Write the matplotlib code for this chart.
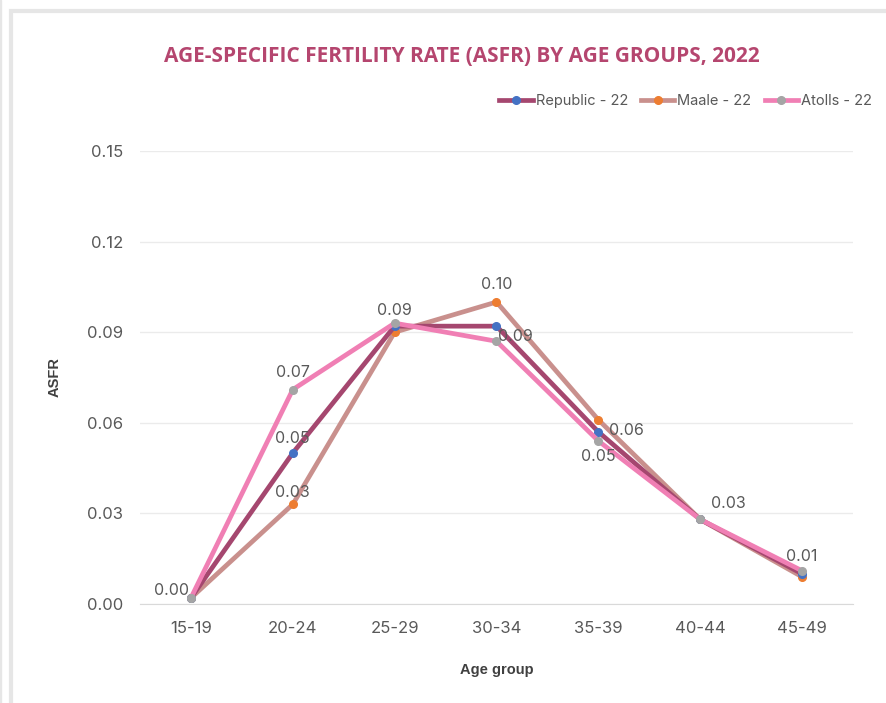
import numpy as np
import matplotlib.pyplot as plt
from matplotlib.patches import Rectangle

# data
age_groups = ["15-19", "20-24", "25-29", "30-34", "35-39", "40-44", "45-49"]
republic = [0.002, 0.050, 0.092, 0.092, 0.057, 0.028, 0.010]
maale = [0.002, 0.033, 0.090, 0.100, 0.061, 0.028, 0.009]
atolls = [0.002, 0.071, 0.093, 0.087, 0.054, 0.028, 0.011]

plt.rcParams['font.family'] = ['Inter', 'DejaVu Sans']
fig = plt.figure(figsize=(8.87, 7.03), dpi=100)

# light grey frame round the chart
fig.patches.append(Rectangle((11 / 887, -0.01), 1.0, 0.995, transform=fig.transFigure,
                             fill=False, edgecolor="#e6e6e6", linewidth=3))
fig.patches.append(Rectangle((0, 0), 0.0015, 1, transform=fig.transFigure,
                             color="#e6e6e6"))

ax = fig.add_axes([140 / 887, 99 / 703, 713 / 887, 453 / 703])
x = np.arange(len(age_groups))

ax.plot(x, republic, color="#a5476f", lw=3.4, marker="o", ms=5.5,
        mfc="#4472c4", mec="#4472c4", label="Republic - 22", zorder=3)
ax.plot(x, maale, color="#c9908d", lw=3.4, marker="o", ms=5.5,
        mfc="#ed7d31", mec="#ed7d31", label="Maale - 22", zorder=2)
ax.plot(x, atolls, color="#f07fb4", lw=3.4, marker="o", ms=5.5,
        mfc="#a5a5a5", mec="#a5a5a5", label="Atolls - 22", zorder=4)

ax.set_xlim(-0.5, 6.5)
ax.set_ylim(0, 0.15)
ax.set_yticks(np.arange(0, 0.151, 0.03))
ax.yaxis.set_major_formatter(plt.FormatStrFormatter("%.2f"))
ax.set_xticks(x)
ax.set_xticklabels(age_groups)
ax.tick_params(colors="#595959", labelsize=12, length=0, pad=12)
ax.grid(axis="y", color="#ebebeb", lw=1)
ax.set_axisbelow(True)
for s in ["top", "right", "left"]:
    ax.spines[s].set_visible(False)
ax.spines["bottom"].set_color("#d9d9d9")

lab_kw = dict(color="#595959", fontsize=11.5, zorder=6,
              textcoords="offset points")

# data labels, placed as in the reference
ax.annotate(f"{atolls[0]:.2f}", (x[0], atolls[0]), xytext=(-14, 0), ha="center", va="bottom", **lab_kw)
ax.annotate(f"{atolls[1]:.2f}", (x[1], atolls[1]), xytext=(0, 7), ha="center", va="bottom", **lab_kw)
ax.annotate(f"{republic[1]:.2f}", (x[1], republic[1]), xytext=(0, 5), ha="center", va="bottom", **lab_kw)
ax.annotate(f"{maale[1]:.2f}", (x[1], maale[1]), xytext=(0, 3), ha="center", va="bottom", **lab_kw)
ax.annotate(f"{republic[2]:.2f}", (x[2], republic[2]), xytext=(0, 6), ha="center", va="bottom", **lab_kw)
ax.annotate(f"{maale[3]:.2f}", (x[3], maale[3]), xytext=(0, 7), ha="center", va="bottom", **lab_kw)
ax.annotate(f"{atolls[3]:.2f}", (x[3], atolls[3]), xytext=(1, -2), ha="left", va="bottom", **lab_kw)
ax.annotate(f"{maale[4]:.2f}", (x[4], maale[4]), xytext=(8, -8), ha="left", va="center", **lab_kw)
ax.annotate(f"{atolls[4]:.2f}", (x[4], atolls[4]), xytext=(0, -6), ha="center", va="top", **lab_kw)
ax.annotate(f"{republic[5]:.2f}", (x[5], republic[5]), xytext=(8, 6), ha="left", va="bottom", **lab_kw)
ax.annotate(f"{atolls[6]:.2f}", (x[6], atolls[6]), xytext=(0, 5), ha="center", va="bottom", **lab_kw)

ax.set_ylabel("ASFR", fontsize=10.5, fontweight="bold", color="#404040",
              family=["Liberation Sans", "DejaVu Sans"], labelpad=18)
ax.set_xlabel("Age group", fontsize=10.5, fontweight="bold", color="#404040",
              family=["Liberation Sans", "DejaVu Sans"], labelpad=20)

fig.text(462 / 887, 1 - 56 / 703, "AGE-SPECIFIC FERTILITY RATE (ASFR) BY AGE GROUPS, 2022",
         ha="center", va="center", fontsize=15, fontweight="bold", color="#b5466f",
         family=["Open Sans", "DejaVu Sans"])

fig.legend(loc="center right", bbox_to_anchor=(885 / 887, 1 - 101 / 703), ncol=3,
           frameon=False, fontsize=10.5, labelcolor="#595959", handlelength=2.3,
           columnspacing=0.9, handletextpad=0.2)

fig.savefig("out.png", dpi=100)
